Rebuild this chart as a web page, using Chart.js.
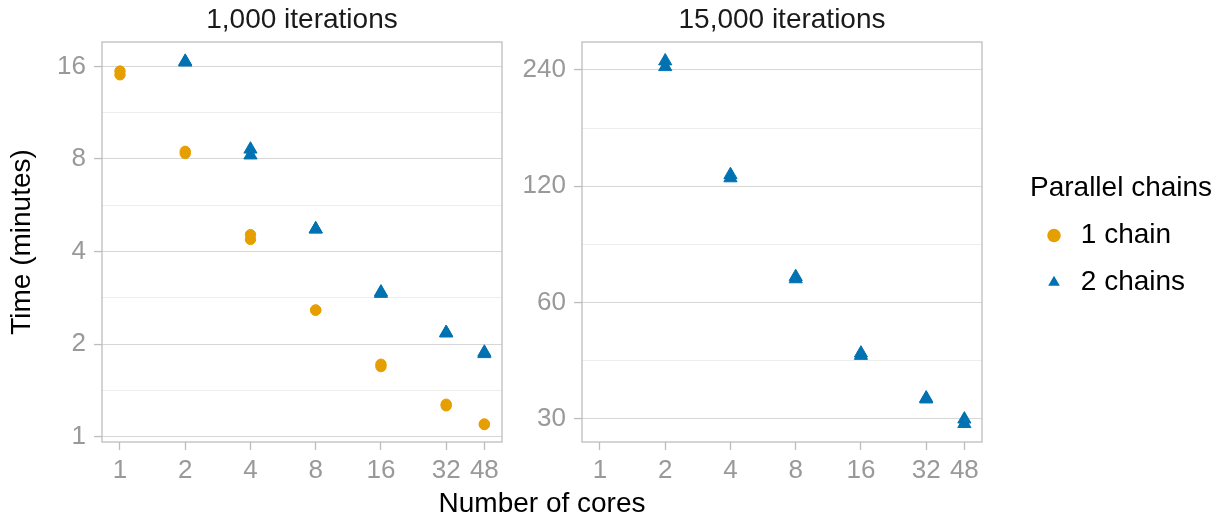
<!DOCTYPE html>
<html>
<head>
<meta charset="utf-8">
<script src="https://cdn.jsdelivr.net/npm/chart.js@4.4.1/dist/chart.umd.min.js"></script>
<style>
  body { margin: 0; background: #fff; font-family: "Liberation Sans", Arial, sans-serif; }
  #page { position: relative; width: 1223px; height: 519px; overflow: hidden; }
  .panel { position: absolute; top: 0; height: 519px; }
  #left { left: 0; width: 504px; }
  #right { left: 480px; width: 743px; }
  #xTitle {
    position: absolute; left: 102px; width: 880px; top: 489px;
    text-align: center; font-size: 28px; line-height: 28px; color: #000;
  }
</style>
</head>
<body>
<div id="page">
  <div class="panel" id="left"><canvas id="chart1k"></canvas></div>
  <div class="panel" id="right"><canvas id="chart15k"></canvas></div>
  <div id="xTitle">Number of cores</div>
</div>
<script>
// cores used for each run
const cores = [1, 2, 4, 8, 16, 32, 48];
const coresTwoChains = [2, 4, 8, 16, 32, 48];
const coreTicks = [1, 2, 4, 8, 16, 32, 48];

// 1,000 iterations, time in minutes (two repeated runs)
const oneChain1kRunA = [15.45, 8.47, 4.54, 2.58, 1.72, 1.275, 1.10];
const oneChain1kRunB = [15.02, 8.33, 4.38, 2.58, 1.69, 1.26, 1.095];
const twoChains1kRunA = [16.6, 8.6, 4.73, 2.95, 2.18, 1.88];
const twoChains1kRunB = [16.5, 8.23, 4.73, 2.92, 2.17, 1.86];

// 15,000 iterations, time in minutes
const twoChains15kRunA = [253, 128.4, 69.9, 44.3, 33.9, 29.9];
const twoChains15kRunB = [244.5, 126, 69.0, 43.7, 33.7, 29.1];

const yTicks1k = [1, 2, 4, 8, 16];
const yTicks15k = [30, 60, 120, 240];

const ORANGE = "#E69F00";
const BLUE = "#0072B2";

const toPoints = (xs, a, b) =>
  xs.flatMap((x, i) => [{ x, y: a[i] }, { x, y: b[i] }]);

// majors plus the log midpoints between them (minor grid lines)
const withMinors = (majors) => {
  const out = [];
  majors.forEach((v, i) => {
    out.push(v);
    if (i < majors.length - 1) out.push(Math.sqrt(v * majors[i + 1]));
  });
  return out;
};

const panelBorder = {
  id: "panelBorder",
  beforeDatasetsDraw(chart) {
    const { ctx, chartArea: a } = chart;
    ctx.save();
    ctx.strokeStyle = "#bdbdbd";
    ctx.lineWidth = 1.3;
    ctx.strokeRect(a.left, a.top, a.right - a.left, a.bottom - a.top);
    ctx.restore();
  },
};

// fixed legend width so the panel lines up
const legendWidth = {
  id: "legendWidth",
  beforeLayout(chart) {
    const legend = chart.legend;
    if (!legend || legend._fixedWidth) return;
    const fit = legend.fit;
    legend.fit = function () {
      fit.call(this);
      this.width = 193;
    };
    legend._fixedWidth = true;
  },
};

const circleStyle = {
  pointStyle: "circle",
  pointRadius: 5.2,
  borderWidth: 1,
  backgroundColor: ORANGE,
  borderColor: ORANGE,
};
const triangleStyle = {
  pointStyle: "triangle",
  pointRadius: 7.6,
  borderWidth: 1,
  backgroundColor: BLUE,
  borderColor: BLUE,
};

const noPadding = (s) => {
  s.paddingLeft = 0;
  s.paddingRight = 0;
  s.paddingTop = 0;
  s.paddingBottom = 0;
};

const makeScales = (title, yMin, yMax, yTicks, yTitle) => {
  const yAll = withMinors(yTicks);
  return {
    x: {
      type: "logarithmic",
      position: "bottom",
      min: 0.826,
      max: 57.9,
      afterBuildTicks: (s) => { s.ticks = coreTicks.map((v) => ({ value: v })); },
      ticks: {
        callback: (v) => String(v),
        font: { size: 26 },
        color: "#999999",
        padding: 5,
        autoSkip: false,
        maxRotation: 0,
      },
      grid: { drawOnChartArea: false, drawTicks: true, tickLength: 8, tickColor: "#bdbdbd", tickWidth: 1.3 },
      border: { display: false },
      afterFit: (s) => { s.height = 77; noPadding(s); },
    },
    y: {
      type: "logarithmic",
      position: "left",
      min: yMin,
      max: yMax,
      afterBuildTicks: (s) => { s.ticks = yAll.map((v) => ({ value: v })); },
      ticks: {
        callback: (v) => (yTicks.includes(v) ? String(v) : ""),
        font: { size: 26 },
        color: "#999999",
        padding: 8,
        autoSkip: false,
      },
      grid: {
        color: (c) => (yTicks.includes(c.tick.value) ? "#d7d7d7" : "#e8e8e8"),
        lineWidth: (c) => (yTicks.includes(c.tick.value) ? 1.1 : 0.8),
        tickColor: (c) => (yTicks.includes(c.tick.value) ? "#bdbdbd" : "rgba(0,0,0,0)"),
        tickWidth: 1.3,
        tickLength: 8,
      },
      border: { display: false },
      title: {
        display: !!yTitle,
        text: yTitle || "",
        font: { size: 28 },
        color: "#000",
        padding: { top: 5, bottom: 0 },
      },
      afterFit: (s) => { s.width = 102; noPadding(s); },
    },
    top: {
      type: "linear",
      position: "top",
      min: 0,
      max: 1,
      ticks: { display: false },
      grid: { display: false },
      border: { display: false },
      title: { display: true, text: title, font: { size: 28 }, color: "#1a1a1a", padding: { top: 3, bottom: 0 } },
      afterFit: (s) => { s.height = 42; noPadding(s); },
    },
  };
};

Chart.defaults.font.family = '"Liberation Sans", Arial, sans-serif';

new Chart(document.getElementById("chart1k"), {
  type: "scatter",
  data: {
    datasets: [
      { label: "1 chain", data: toPoints(cores, oneChain1kRunA, oneChain1kRunB), ...circleStyle },
      { label: "2 chains", data: toPoints(coresTwoChains, twoChains1kRunA, twoChains1kRunB), ...triangleStyle },
    ],
  },
  options: {
    responsive: true,
    maintainAspectRatio: false,
    animation: false,
    events: [],
    layout: { autoPadding: false, padding: { left: 0, right: 2, top: 0, bottom: 0 } },
    plugins: { legend: { display: false }, tooltip: { enabled: false } },
    scales: makeScales("1,000 iterations", 0.961, 19.2, yTicks1k, "Time (minutes)"),
  },
  plugins: [panelBorder],
});

const scales15k = makeScales("15,000 iterations", 26.1, 283.5, yTicks15k, null);
// empty strip between the panel and the legend
scales15k.gap = {
  type: "linear",
  position: "right",
  min: 0,
  max: 1,
  ticks: { display: false },
  grid: { display: false },
  border: { display: false },
  afterFit: (s) => { s.width = 48; noPadding(s); },
};

new Chart(document.getElementById("chart15k"), {
  type: "scatter",
  data: {
    datasets: [
      { label: "1 chain", data: [], ...circleStyle },
      { label: "2 chains", data: toPoints(coresTwoChains, twoChains15kRunA, twoChains15kRunB), ...triangleStyle },
    ],
  },
  options: {
    responsive: true,
    maintainAspectRatio: false,
    animation: false,
    events: [],
    layout: { autoPadding: false, padding: 0 },
    plugins: {
      tooltip: { enabled: false },
      legend: {
        display: true,
        position: "right",
        align: "center",
        fullSize: false,
        title: {
          display: true,
          text: "Parallel chains",
          position: "start",
          color: "#000",
          font: { size: 28, lineHeight: 1 },
          padding: { top: 6, bottom: 0 },
        },
        labels: {
          usePointStyle: true,
          boxWidth: 10,
          boxHeight: 9.5,
          padding: 19,
          color: "#000",
          font: { size: 28 },
          generateLabels: (chart) =>
            chart.data.datasets.map((ds, i) => ({
              text: " " + ds.label,
              fillStyle: ds.backgroundColor,
              strokeStyle: ds.borderColor,
              lineWidth: 0,
              pointStyle: ds.pointStyle,
              hidden: false,
              datasetIndex: i,
            })),
        },
      },
    },
    scales: scales15k,
  },
  plugins: [panelBorder, legendWidth],
});
</script>
</body>
</html>
